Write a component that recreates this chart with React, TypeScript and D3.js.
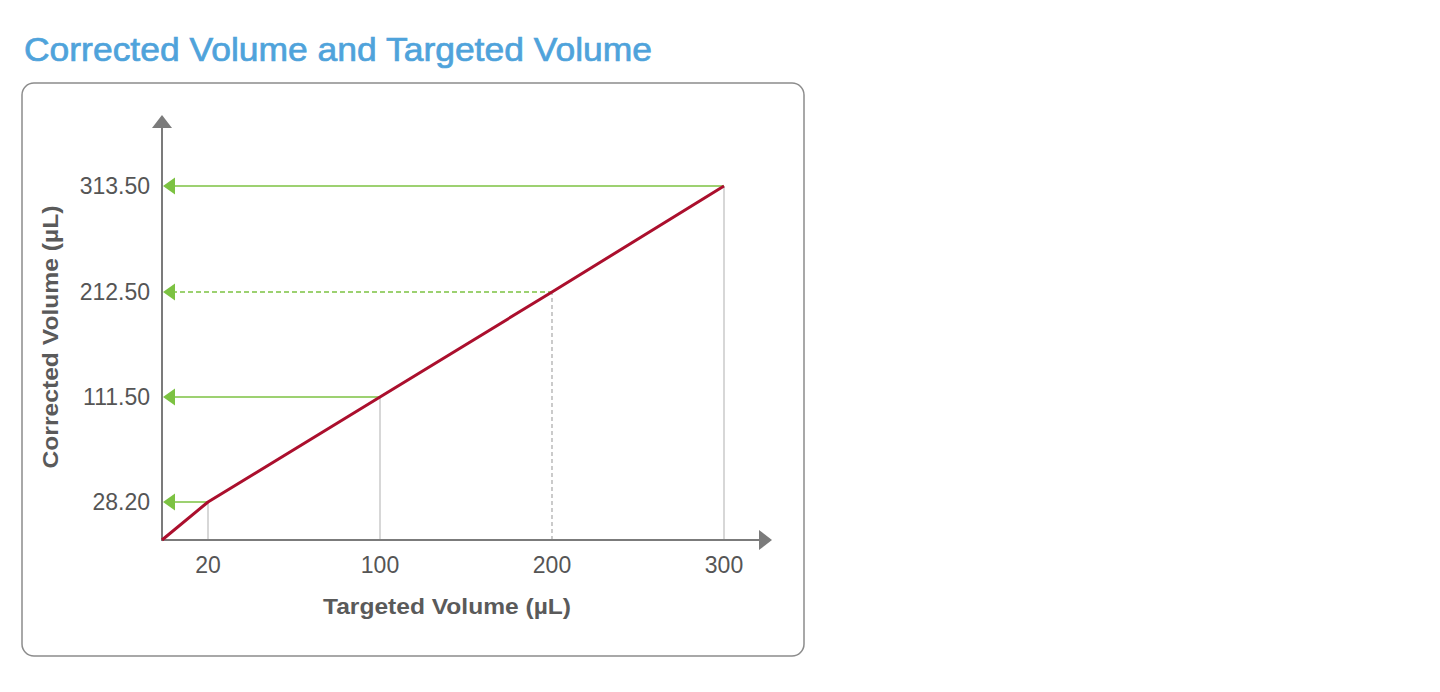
import { useRef, useEffect } from "react"
import * as d3 from "d3"

// data (origin included, line starts there)
const targeted = [0, 20, 100, 200, 300]
const corrected = [0, 28.2, 111.5, 212.5, 313.5]
const xTicks = [20, 100, 200, 300]
const yTicks = [28.2, 111.5, 212.5, 313.5]
const dashedTargets = [200]

const TITLE = "Corrected Volume and Targeted Volume"
const X_LABEL = "Targeted Volume (µL)"
const Y_LABEL = "Corrected Volume (µL)"

export default function App() {
  const svgRef = useRef<SVGSVGElement>(null)

  useEffect(() => {
    if (!svgRef.current) return
    const svg = d3.select(svgRef.current)
    svg.selectAll("*").remove()

    const font = "'Liberation Sans', Arial, Helvetica, sans-serif"
    const axisColor = "#7b7b7b"
    const green = "#7cc242"
    const red = "#ab0f2d"
    const guide = "#bcbcbc"

    // the axis is schematic: the 20 tick is squeezed next to the origin
    const x = d3.scaleLinear().domain(targeted).range([162, 208, 380, 552, 724])
    const y = d3.scaleLinear().domain(corrected).range([540, 502, 397, 292, 186])

    const x0 = x(0)
    const y0 = y(0)

    // title (slight stroke to get the medium weight of the original)
    svg
      .append("text")
      .attr("x", 24)
      .attr("y", 61)
      .attr("fill", "#4fa3db")
      .attr("stroke", "#4fa3db")
      .attr("stroke-width", 0.7)
      .attr("font-family", font)
      .attr("font-size", "34px")
      .attr("textLength", 628)
      .attr("lengthAdjust", "spacingAndGlyphs")
      .text(TITLE)

    // frame
    svg
      .append("rect")
      .attr("x", 22)
      .attr("y", 83)
      .attr("width", 782)
      .attr("height", 573)
      .attr("rx", 12)
      .attr("fill", "white")
      .attr("stroke", "#8c8c8c")
      .attr("stroke-width", 1.5)

    const g = svg.append("g")

    const points = targeted.map((t, i) => ({ t, c: corrected[i] })).filter((d) => d.t > 0)

    // vertical gray guides
    g.selectAll("line.vguide")
      .data(points)
      .join("line")
      .attr("class", "vguide")
      .attr("x1", (d) => x(d.t))
      .attr("x2", (d) => x(d.t))
      .attr("y1", y0)
      .attr("y2", (d) => y(d.c))
      .attr("stroke", (d) => (dashedTargets.includes(d.t) ? "#a8a8a8" : guide))
      .attr("stroke-width", 1.2)
      .attr("stroke-dasharray", (d) => (dashedTargets.includes(d.t) ? "4,3" : null))

    // green horizontal guides with left arrowheads
    g.selectAll("line.hguide")
      .data(points)
      .join("line")
      .attr("class", "hguide")
      .attr("x1", x0 + 10)
      .attr("x2", (d) => x(d.t))
      .attr("y1", (d) => y(d.c))
      .attr("y2", (d) => y(d.c))
      .attr("stroke", green)
      .attr("stroke-width", 1.6)
      .attr("stroke-dasharray", (d) => (dashedTargets.includes(d.t) ? "5,3" : null))

    g.selectAll("path.harrow")
      .data(points)
      .join("path")
      .attr("class", "harrow")
      .attr("d", (d) => {
        const yy = y(d.c)
        return `M${x0 + 1},${yy} L${x0 + 13},${yy - 8.5} L${x0 + 13},${yy + 8.5} Z`
      })
      .attr("fill", green)

    // axes
    g.append("line")
      .attr("x1", x0)
      .attr("x2", 760)
      .attr("y1", y0)
      .attr("y2", y0)
      .attr("stroke", axisColor)
      .attr("stroke-width", 2)
    g.append("path").attr("d", `M772,${y0} L759,${y0 - 10} L759,${y0 + 10} Z`).attr("fill", axisColor)

    g.append("line")
      .attr("x1", x0)
      .attr("x2", x0)
      .attr("y1", y0 + 1)
      .attr("y2", 127)
      .attr("stroke", axisColor)
      .attr("stroke-width", 2)
    g.append("path").attr("d", `M${x0},115 L${x0 - 10},128 L${x0 + 10},128 Z`).attr("fill", axisColor)

    // tick labels
    g.selectAll("text.xtick")
      .data(xTicks)
      .join("text")
      .attr("class", "xtick")
      .attr("x", (d) => x(d))
      .attr("y", 573)
      .attr("text-anchor", "middle")
      .attr("fill", "#555")
      .attr("font-family", font)
      .attr("font-size", "23px")
      .text((d) => d)

    g.selectAll("text.ytick")
      .data(yTicks)
      .join("text")
      .attr("class", "ytick")
      .attr("x", 150)
      .attr("y", (d) => y(d) + 8)
      .attr("text-anchor", "end")
      .attr("fill", "#555")
      .attr("font-family", font)
      .attr("font-size", "23px")
      .text((d) => d3.format(".2f")(d))

    // axis titles
    g.append("text")
      .attr("x", 447)
      .attr("y", 614)
      .attr("text-anchor", "middle")
      .attr("fill", "#5a5a5a")
      .attr("font-family", font)
      .attr("font-weight", "bold")
      .attr("font-size", "22px")
      .attr("textLength", 248)
      .attr("lengthAdjust", "spacingAndGlyphs")
      .text(X_LABEL)

    g.append("text")
      .attr("transform", "translate(58,337) rotate(-90)")
      .attr("text-anchor", "middle")
      .attr("fill", "#5a5a5a")
      .attr("font-family", font)
      .attr("font-weight", "bold")
      .attr("font-size", "22px")
      .attr("textLength", 263)
      .attr("lengthAdjust", "spacingAndGlyphs")
      .text(Y_LABEL)

    // the corrected volume line
    const line = d3
      .line<number>()
      .x((_, i) => x(targeted[i]))
      .y((d) => y(d))
    g.append("path")
      .datum(corrected)
      .attr("d", line)
      .attr("fill", "none")
      .attr("stroke", red)
      .attr("stroke-width", 3)
      .attr("stroke-linejoin", "round")
  }, [])

  return (
    <svg
      ref={svgRef}
      width={1440}
      height={692}
      style={{ position: "absolute", left: 0, top: 0, background: "white" }}
    />
  )
}
